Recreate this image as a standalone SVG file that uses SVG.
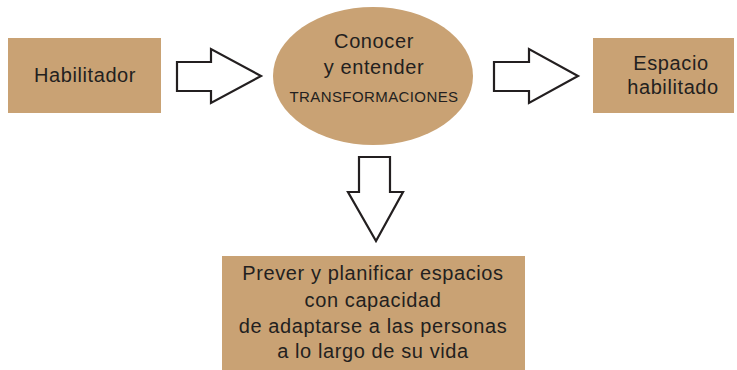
<svg xmlns="http://www.w3.org/2000/svg" width="737" height="370" viewBox="0 0 737 370">
<style>
.box{fill:#C9A274;}
.t{font-family:"Liberation Sans",Arial,sans-serif;font-size:20px;fill:#231F20;text-anchor:middle;letter-spacing:0.6px;}
.s{font-size:15px;letter-spacing:0.4px;}
.arr{fill:#FFFFFF;stroke:#231F20;stroke-width:2.2;stroke-linejoin:miter;}
</style>
<rect width="737" height="370" fill="#FFFFFF"/>
<g id="habilitador">
<rect class="box" x="8" y="38" width="153" height="75"/>
<text class="t" x="85" y="82">Habilitador</text>
</g>
<g id="conocer">
<ellipse class="box" cx="373" cy="76" rx="100" ry="69"/>
<text class="t" x="374" y="48">Conocer</text>
<text class="t" x="374" y="74">y entender</text>
<text class="t s" x="374" y="102">TRANSFORMACIONES</text>
</g>
<g id="espacio">
<rect class="box" x="593" y="38" width="141" height="75"/>
<text class="t" x="671" y="70">Espacio</text>
<text class="t" x="673" y="94">habilitado</text>
</g>
<g id="prever">
<rect class="box" x="222" y="256" width="303" height="114"/>
<text class="t" x="373" y="280">Prever y planificar espacios</text>
<text class="t" x="373" y="307">con capacidad</text>
<text class="t" x="373" y="333">de adaptarse a las personas</text>
<text class="t" x="373" y="358">a lo largo de su vida</text>
</g>
<g id="connectors">
<polygon class="arr" points="177,62 211,62 211,49 261,76 211,103 211,91 177,91"/>
<polygon class="arr" points="494,62 529,62 529,49 578,76 529,103 529,91 494,91"/>
<polygon class="arr" points="359,157 390,157 390,192 403,192 376,241 348,192 359,192"/>
</g>
</svg>
